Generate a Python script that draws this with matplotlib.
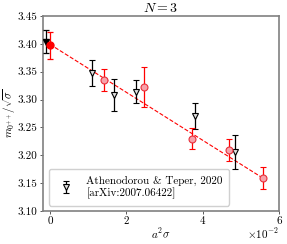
import numpy as np
import matplotlib
matplotlib.use("Agg")
import matplotlib.pyplot as plt

plt.rcParams["font.family"] = "serif"
plt.rcParams["font.serif"] = ["cmr10"]
plt.rcParams["mathtext.fontset"] = "cm"
plt.rcParams["axes.formatter.use_mathtext"] = True
plt.rcParams["font.size"] = 8

# lattice data (this work)
a2s_red = [0.0, 0.0142, 0.0247, 0.0373, 0.0469, 0.0559]
m_red = [3.397, 3.335, 3.322, 3.230, 3.210, 3.159]
err_red = [0.024, 0.019, 0.036, 0.019, 0.020, 0.020]

# Athenodorou & Teper 2020
a2s_at = [-0.0009, 0.0110, 0.0169, 0.0226, 0.0381, 0.0486]
m_at = [3.404, 3.348, 3.308, 3.314, 3.271, 3.206]
err_at = [0.021, 0.023, 0.029, 0.021, 0.023, 0.031]

# continuum fit
fit_intercept = 3.399
fit_slope = -4.30
fit_range = [0.0, 0.0567]

fig, ax = plt.subplots(figsize=(2.87, 2.44), dpi=100)

xf = np.linspace(fit_range[0], fit_range[1], 50)
ax.plot(xf, fit_intercept + fit_slope * xf, "--", color="red", lw=0.8, zorder=1)

# open triangles
ax.errorbar(a2s_at[1:], m_at[1:], yerr=err_at[1:], fmt="v", ms=5, color="black",
            mfc="#e0e0e0", mec="black", mew=0.8, elinewidth=0.9, capsize=2,
            capthick=0.9, label="Athenodorou & Teper, 2020\n[arXiv:2007.06422]", zorder=3)
ax.errorbar(a2s_at[:1], m_at[:1], yerr=err_at[:1], fmt="v", ms=5, color="black",
            mfc="black", mec="black", elinewidth=0.9, capsize=2, capthick=0.9, zorder=3)

ax.errorbar(a2s_red[1:], m_red[1:], yerr=err_red[1:], fmt="o", ms=5, color="red",
            mfc="#f7a1aa", mec="#e8303c", mew=0.8, elinewidth=0.9, capsize=2,
            capthick=0.9, zorder=4)
ax.errorbar(a2s_red[:1], m_red[:1], yerr=err_red[:1], fmt="o", ms=5, color="red",
            mfc="red", mec="red", elinewidth=0.9, capsize=2, capthick=0.9, zorder=4)

ax.set_xlim(-0.0018, 0.06)
ax.set_ylim(3.10, 3.45)
ax.set_xticks([0, 0.02, 0.04, 0.06])
ax.set_xticklabels(["0", "2", "4", "6"])
ax.set_yticks(np.arange(3.10, 3.451, 0.05))
ax.yaxis.set_major_formatter(matplotlib.ticker.FormatStrFormatter("%.2f"))
ax.text(1.0, -0.115, r"$\times10^{-2}$", transform=ax.transAxes,
        ha="right", va="center", fontsize=8)

ax.set_xlabel(r"$a^2\sigma$", va="center")
ax.set_ylabel(r"$m_{0^{++}}/\sqrt{\sigma}$", va="center")
ax.xaxis.set_label_coords(0.5, -0.115)
ax.yaxis.set_label_coords(-0.14, 0.5)
ax.set_title(r"$N=3$", fontsize=10, pad=3)

for s in ax.spines.values():
    s.set_color("#808080")
    s.set_linewidth(1.2)
ax.tick_params(direction="out", length=2, width=0.6, pad=2, color="#404040")

ax.legend(loc="lower left", fontsize=8, handletextpad=0.8, borderpad=0.6,
          framealpha=1, edgecolor="#d0d0d0", fancybox=True)

fig.subplots_adjust(left=0.15, right=0.972, top=0.935, bottom=0.135)
fig.savefig("out.png", dpi=100)
